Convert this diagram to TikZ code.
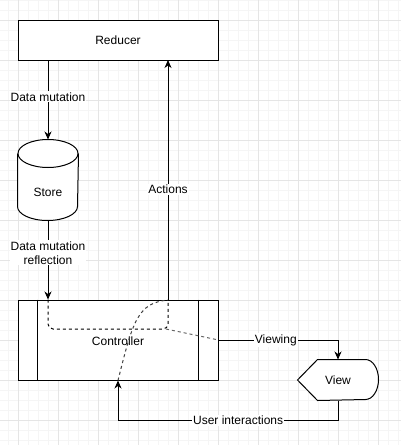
\documentclass[tikz,border=0pt]{standalone}
\usepackage{fontspec}
\setmainfont{Liberation Sans}
\usetikzlibrary{arrows.meta,calc}

\begin{document}
\begin{tikzpicture}[x=1pt,y=-1pt,>={Stealth[length=8pt,width=7pt,inset=2.5pt]},line width=1pt,
                    main node/.style={rectangle,draw,fill=white,inner sep=0pt,
                      minimum width=200pt,minimum height=40pt,font=\fontsize{12}{14}\selectfont},
                    shape node/.style={rectangle,inner sep=0pt,font=\fontsize{12}{14}\selectfont},
                    edge label/.style={fill=white,inner sep=1pt,align=center,
                      font=\fontsize{12}{14}\selectfont}]

  % background grid
  \useasboundingbox (0,0) rectangle (401,445);
  \fill[white] (0,0) rectangle (401,445);
  \foreach \x in {8,18,...,398}
    \draw[line width=0.6pt,black!4] (\x,0) -- (\x,445);
  \foreach \y in {0,10,...,440}
    \draw[line width=0.6pt,black!4] (0,\y) -- (401,\y);
  \foreach \x in {18,58,...,378}
    \draw[line width=0.8pt,black!10] (\x,0) -- (\x,445);
  \foreach \y in {20,60,...,420}
    \draw[line width=0.8pt,black!10] (0,\y) -- (401,\y);

  \node[main node] (reducer) at (118,40) {Reducer};
  \node[main node,minimum height=80pt] (ctrl) at (118,340) {};
  \node[shape node,minimum width=60pt,minimum height=80pt] (store) at (48,180) {};
  \node[shape node,minimum width=80pt,minimum height=40pt] (view) at (338,380) {};

  % store cylinder
  \filldraw[fill=white] ($(store.north west)+(0,14)$) -- ($(store.south west)+(0,-14)$)
    arc[start angle=180,end angle=0,x radius=30,y radius=14]
    -- ($(store.north east)+(0,14)$);
  \filldraw[fill=white] ($(store.north)+(0,14)$) ellipse[x radius=30,y radius=14];
  \node[shape node] (storetext) at ($(store.center)+(0,12)$) {Store};

  % controller bars
  \draw ([xshift=20pt]ctrl.north west) -- ([xshift=20pt]ctrl.south west);
  \draw ([xshift=-20pt]ctrl.north east) -- ([xshift=-20pt]ctrl.south east);
  \node[shape node] (ctrltext) at ($(ctrl.center)+(0,1)$) {Controller};

  % view display shape
  \filldraw[fill=white] (view.west) -- ($(view.north west)+(20,0)$)
    -- ($(view.north east)+(-13,0)$) arc[start angle=-90,end angle=90,x radius=13,y radius=20]
    -- ($(view.south west)+(20,0)$) -- cycle;
  \node[shape node] (viewtext) at (view.center) {View};

  \coordinate (actbot) at (168,300);
  \coordinate (acttop) at (168,60);
  \coordinate (cross) at (166,329);

  % edges
  \draw[->] (store.north |- reducer.south) -- node[edge label,pos=0.46] {Data mutation} (store.north);
  \draw[->] (store.south) -- node[edge label,pos=0.41] {Data mutation\\reflection} (store.south |- ctrl.north);
  \draw[->] (actbot) -- node[edge label,pos=0.46] {Actions} (acttop);
  \draw[->] (ctrl.east) -| node[edge label,pos=0.24] {Viewing} (view.north);
  \draw[->] (view.south) -- ++(0,20) -| node[edge label,pos=0.227] {User interactions} (ctrl.south);

  % hidden routing
  \draw[dashed,rounded corners=5pt] (store.south |- ctrl.north) |- (cross -| actbot) -- (actbot);
  \draw[dashed,black!60] (cross) -- (ctrl.east);
  \draw[dashed,black!75] (ctrl.south) .. controls (133,320) and (138,303) .. (actbot);
\end{tikzpicture}
\end{document}
